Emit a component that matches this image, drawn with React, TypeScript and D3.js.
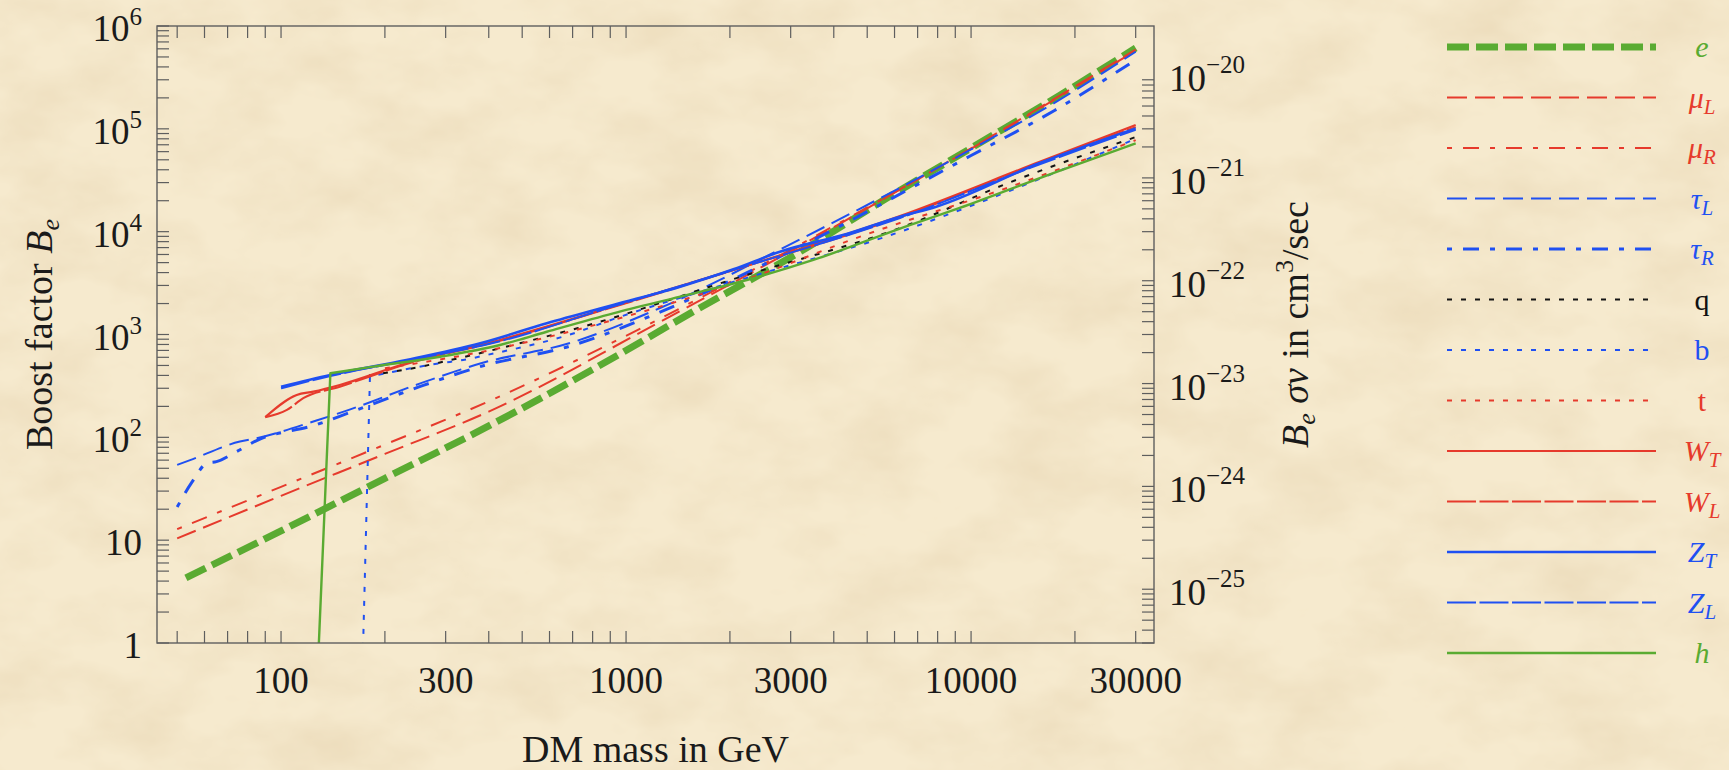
import React from "react";
import * as d3 from "d3";

const WIDTH = 1729;
const HEIGHT = 770;

// Boost factor B_e needed for each annihilation channel, as [DM mass in GeV, B_e]
const eData = [[53, 4.3], [100, 12.3], [200, 40], [400, 129], [800, 457], [1600, 1740], [3200, 6400], [5600, 20400], [10000, 65000], [18000, 210000], [30000, 611000]];
const muLData = [[50, 10.4], [100, 27], [200, 69], [400, 178], [1250, 1320], [3000, 6460], [10000, 64600], [30000, 589000]];
const muRData = [[50, 12.8], [100, 33], [200, 85], [400, 224], [1250, 1420], [3000, 6700], [10000, 64000], [30000, 575000]];
const tauLData = [[50, 54], [54.5, 60], [76, 91], [85, 98], [126, 145], [158, 186], [251, 331], [380, 525], [692, 832], [1259, 1820], [2884, 7080], [10000, 63000], [17400, 178000], [30000, 562000]];
const tauRData = [[50, 21], [55, 36], [61, 56], [65, 58], [74, 72], [85, 93], [126, 132], [158, 174], [251, 309], [380, 490], [692, 776], [1259, 1660], [2884, 6030], [10000, 55000], [17400, 150000], [30000, 468000]];
const qData = [[180, 400], [216, 440], [253, 485], [289, 535], [513, 851], [726, 1156], [2239, 3800], [6223, 10860], [12970, 30200], [30000, 83200]];
const bData = [[170, 0.1], [181, 390], [212, 435], [247, 480], [289, 525], [337, 565], [395, 632], [707, 1030], [918, 1410], [2239, 3550], [5640, 8900], [13000, 25100], [30000, 80000]];
const tData = [[200, 470], [400, 700], [1000, 1500], [2239, 3450], [4920, 9290], [12700, 26600], [30000, 77600]];
const wTData = [[90, 157], [111, 258], [124, 278], [148, 323], [231, 525], [431, 885], [918, 1870], [2047, 4250], [6223, 14200], [15740, 47500], [30000, 109000]];
const wLData = [[90, 157], [104, 185], [116, 240], [148, 310], [231, 515], [431, 870], [918, 1850], [2047, 4230], [6223, 13800], [15740, 46500], [30000, 104000]];
const zTData = [[100, 311], [139, 404], [231, 565], [378, 822], [589, 1285], [918, 1936], [1435, 2917], [2047, 4305], [2793, 6383], [4355, 9500], [6223, 14000], [7925, 17500], [15740, 46200], [30000, 101000]];
const zLData = [[100, 300], [139, 395], [231, 555], [431, 860], [918, 1880], [2047, 4250], [6223, 13600], [15740, 45000], [30000, 98000]];
const hData = [[125, 0.1], [139, 420], [185, 487], [289, 608], [431, 791], [589, 1064], [918, 1607], [1435, 2333], [2239, 3388], [3491, 5309], [6223, 10700], [9268, 17000], [17460, 37600], [30000, 72400]];

// Axis ticks
const xTickLabels = [100, 300, 1000, 3000, 10000, 30000];
const leftExponents = [0, 1, 2, 3, 4, 5, 6];
const rightExponents = [-25, -24, -23, -22, -21, -20];
const SIGMA_V = 3e-26; // cm^3/sec, thermal cross section

const RED = "#e63a2c";
const BLUE = "#1f50f2";
const GREEN = "#5aab32";
const BLACK = "#141414";

const DASHED = "20 8";
const DASHDOT = "5 11 16 11";
const DOTTED = "5 9";
const LONGDASH = "29 3.5";

const series = [
  { data: eData, color: GREEN, width: 7, dash: "22 7", label: "e", sub: "", italic: true },
  { data: muLData, color: RED, width: 2, dash: DASHED, label: "μ", sub: "L", italic: true },
  { data: muRData, color: RED, width: 2, dash: DASHDOT, label: "μ", sub: "R", italic: true },
  { data: tauLData, color: BLUE, width: 2, dash: DASHED, label: "τ", sub: "L", italic: true },
  { data: tauRData, color: BLUE, width: 3, dash: DASHDOT, label: "τ", sub: "R", italic: true },
  { data: qData, color: BLACK, width: 2, dash: DOTTED, label: "q", sub: "", italic: false },
  { data: bData, color: BLUE, width: 2, dash: DOTTED, label: "b", sub: "", italic: false },
  { data: tData, color: RED, width: 2, dash: DOTTED, label: "t", sub: "", italic: false },
  { data: wTData, color: RED, width: 2.2, dash: "", label: "W", sub: "T", italic: true },
  { data: wLData, color: RED, width: 2, dash: LONGDASH, label: "W", sub: "L", italic: true },
  { data: zTData, color: BLUE, width: 2.6, dash: "", label: "Z", sub: "T", italic: true },
  { data: zLData, color: BLUE, width: 2, dash: LONGDASH, label: "Z", sub: "L", italic: true },
  { data: hData, color: GREEN, width: 2.4, dash: "", label: "h", sub: "", italic: true },
];

const PLOT = { left: 157, right: 1154, top: 26, bottom: 643 };
const FRAME = "#5e5e5e";
const SERIF = "'Liberation Serif', 'DejaVu Serif', serif";

export default function App() {
  const x = d3.scaleLog().domain([43.7, 33900]).range([PLOT.left, PLOT.right]);
  const y = d3.scaleLog().domain([1, 1e6]).range([PLOT.bottom, PLOT.top]);
  const yR = d3.scaleLog().domain([SIGMA_V, SIGMA_V * 1e6]).range([PLOT.bottom, PLOT.top]);

  const smooth = d3
    .line<number[]>()
    .x((d) => x(d[0]))
    .y((d) => y(d[1]))
    .curve(d3.curveMonotoneX);
  const straight = d3
    .line<number[]>()
    .x((d) => x(d[0]))
    .y((d) => y(d[1]));

  // A channel whose curve rises from below the frame starts with a straight threshold segment
  const pathFor = (data: number[][]) => {
    if (data[0][1] < 1) {
      const head = straight(data.slice(0, 2)) || "";
      const tail = smooth(data.slice(1)) || "";
      return head + tail.replace(/^M/, "L");
    }
    return smooth(data) || "";
  };

  const [x0, x1] = x.domain();
  const xTicks: number[] = [];
  for (let p = 1; p <= 4; p++) {
    for (let k = 1; k <= 9; k++) {
      const v = k * Math.pow(10, p);
      if (v >= x0 && v <= x1) xTicks.push(v);
    }
  }
  const yTicks: number[] = [];
  for (let p = 0; p <= 5; p++) for (let k = 1; k <= 9; k++) yTicks.push(k * Math.pow(10, p));
  yTicks.push(1e6);
  const yRTicks: number[] = [];
  for (let p = -26; p <= -21; p++) {
    for (let k = 1; k <= 9; k++) {
      const v = k * Math.pow(10, p);
      if (v >= SIGMA_V * 0.999 && v <= SIGMA_V * 1e6 * 1.001) yRTicks.push(v);
    }
  }

  const TICK = 12;
  const legendY = (i: number) => 47 + i * 50.5;

  return (
    <svg
      width={WIDTH}
      height={HEIGHT}
      style={{ position: "absolute", left: 0, top: 0, display: "block" }}
      fontFamily={SERIF}
    >
      <defs>
        <filter id="paper" x="0" y="0" width="100%" height="100%">
          <feTurbulence type="fractalNoise" baseFrequency="0.011 0.018" numOctaves="4" seed="7" />
          <feColorMatrix
            type="matrix"
            values="0 0 0 0 0.78  0 0 0 0 0.64  0 0 0 0 0.42  0.9 0 0 0 -0.33"
          />
        </filter>
        <clipPath id="plotArea">
          <rect x={PLOT.left} y={PLOT.top} width={PLOT.right - PLOT.left} height={PLOT.bottom - PLOT.top} />
        </clipPath>
      </defs>

      <rect x={0} y={0} width={WIDTH} height={HEIGHT} fill="#f6eace" />
      <rect x={0} y={0} width={WIDTH} height={HEIGHT} filter="url(#paper)" />

      {/* curves */}
      <g clipPath="url(#plotArea)" fill="none">
        {series.map((s, i) => (
          <path
            key={i}
            d={pathFor(s.data)}
            stroke={s.color}
            strokeWidth={s.width}
            strokeDasharray={s.dash || undefined}
            strokeLinejoin="round"
          />
        ))}
      </g>

      {/* frame */}
      <rect
        x={PLOT.left}
        y={PLOT.top}
        width={PLOT.right - PLOT.left}
        height={PLOT.bottom - PLOT.top}
        fill="none"
        stroke={FRAME}
        strokeWidth={1.4}
      />

      {/* ticks on all four sides */}
      <g stroke={FRAME} strokeWidth={1.2}>
        {xTicks.map((v) => (
          <g key={v}>
            <line x1={x(v)} x2={x(v)} y1={PLOT.bottom} y2={PLOT.bottom - TICK} />
            <line x1={x(v)} x2={x(v)} y1={PLOT.top} y2={PLOT.top + TICK} />
          </g>
        ))}
        {yTicks.map((v) => (
          <line key={v} x1={PLOT.left} x2={PLOT.left + TICK} y1={y(v)} y2={y(v)} />
        ))}
        {yRTicks.map((v) => (
          <line key={v} x1={PLOT.right} x2={PLOT.right - TICK} y1={yR(v)} y2={yR(v)} />
        ))}
      </g>

      {/* x tick labels */}
      <g fontSize={37} fill="#1a1a1a" textAnchor="middle">
        {xTickLabels.map((v) => (
          <text key={v} x={x(v)} y={693}>
            {v}
          </text>
        ))}
      </g>

      {/* left tick labels */}
      <g fontSize={37} fill="#1a1a1a" textAnchor="end">
        {leftExponents.map((p) => (
          <text key={p} x={142} y={y(Math.pow(10, p)) + 15}>
            {p === 0 ? "1" : "10"}
            {p >= 2 ? (
              <tspan dy={-16} fontSize={25}>
                {p}
              </tspan>
            ) : null}
          </text>
        ))}
      </g>

      {/* right tick labels */}
      <g fontSize={37} fill="#1a1a1a" textAnchor="start">
        {rightExponents.map((p) => (
          <text key={p} x={1169} y={yR(Math.pow(10, p)) + 16}>
            10
            <tspan dy={-18} fontSize={25}>
              {"\u2212" + Math.abs(p)}
            </tspan>
          </text>
        ))}
      </g>

      {/* axis titles */}
      <text x={(PLOT.left + PLOT.right) / 2} y={762} fontSize={38} textAnchor="middle" fill="#1a1a1a">
        DM mass in GeV
      </text>
      <text
        transform={`translate(52, ${(PLOT.top + PLOT.bottom) / 2}) rotate(-90)`}
        fontSize={38}
        textAnchor="middle"
        fill="#1a1a1a"
      >
        Boost factor <tspan fontStyle="italic">B</tspan>
        <tspan fontStyle="italic" fontSize={26} dy={7}>
          e
        </tspan>
      </text>
      <text
        transform={`translate(1308, ${(PLOT.top + PLOT.bottom) / 2 - 10}) rotate(-90)`}
        fontSize={38}
        textAnchor="middle"
        fill="#1a1a1a"
      >
        <tspan fontStyle="italic">B</tspan>
        <tspan fontStyle="italic" fontSize={26} dy={7}>
          e
        </tspan>
        <tspan dy={-7} fontStyle="italic">
          {" σv"}
        </tspan>
        <tspan>{" in cm"}</tspan>
        <tspan fontSize={26} dy={-15}>
          3
        </tspan>
        <tspan dy={15}>/sec</tspan>
      </text>

      {/* legend */}
      <g>
        {series.map((s, i) => (
          <g key={i}>
            <line
              x1={1447}
              x2={1656}
              y1={legendY(i)}
              y2={legendY(i)}
              stroke={s.color}
              strokeWidth={s.width}
              strokeDasharray={s.dash || undefined}
            />
            <text
              x={1702}
              y={legendY(i) + 10}
              fontSize={30}
              textAnchor="middle"
              fill={s.color === BLACK ? "#111" : s.color}
              fontStyle={s.italic ? "italic" : "normal"}
            >
              {s.label}
              {s.sub ? (
                <tspan fontSize={21} dy={6}>
                  {s.sub}
                </tspan>
              ) : null}
            </text>
          </g>
        ))}
      </g>
    </svg>
  );
}
